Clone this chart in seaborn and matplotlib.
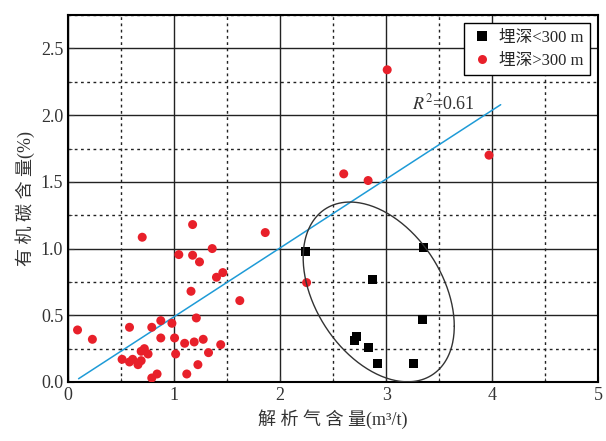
import numpy as np
import pandas as pd
import matplotlib
matplotlib.use('Agg')
import matplotlib.pyplot as plt
from matplotlib.ticker import MultipleLocator, FormatStrFormatter
import seaborn as sns

# 埋深<300 m
shallow_x = [2.24, 3.35, 2.87, 3.34, 2.72, 2.70, 2.835, 2.92, 3.26]
shallow_y = [0.98, 1.005, 0.77, 0.47, 0.34, 0.31, 0.257, 0.135, 0.135]

# 埋深>300 m
deep_x = [0.09, 0.23, 0.51, 0.58, 0.58, 0.61, 0.66, 0.69, 0.69, 0.72, 0.755,
          0.79, 0.79, 0.84, 0.875, 0.875, 0.98, 1.005, 1.015, 1.10, 1.12,
          1.19, 1.21, 1.225, 1.275, 1.325, 1.44, 1.62, 1.16, 1.40, 1.46,
          1.24, 1.045, 1.175, 1.36, 0.70, 1.175, 1.86, 2.25, 2.60, 2.83,
          3.01, 3.97]
deep_y = [0.39, 0.32, 0.17, 0.41, 0.15, 0.17, 0.13, 0.16, 0.23, 0.25, 0.21,
          0.41, 0.03, 0.06, 0.46, 0.33, 0.44, 0.33, 0.21, 0.29, 0.06,
          0.30, 0.48, 0.13, 0.32, 0.22, 0.28, 0.61, 0.68, 0.785, 0.82,
          0.90, 0.955, 0.95, 1.00, 1.085, 1.18, 1.12, 0.745, 1.56, 1.51,
          2.34, 1.70]

label_shallow = '埋深<300 m'
label_deep = '埋深>300 m'

# 拟合线
fit_slope = 0.516
fit_intercept = -0.027
fit_x = [0.1, 4.08]
r2_text = r'$R^2$=0.61'

# 圈出的范围 (椭圆)
ell_center = (2.93, 0.675)
ell_cov = [[0.5076, -0.1829], [-0.1829, 0.4538]]

df = pd.DataFrame({
    'x': shallow_x + deep_x,
    'y': shallow_y + deep_y,
    'group': [label_shallow] * len(shallow_x) + [label_deep] * len(deep_x),
})

sns.set_style('ticks')
plt.rcParams['font.family'] = ['Liberation Serif', 'Noto Sans CJK SC']
plt.rcParams['mathtext.fontset'] = 'stix'
cn_font = ['Liberation Serif', 'Noto Sans CJK SC']

fig = plt.figure(figsize=(6.06, 4.41), dpi=100)
ax = fig.add_axes([0.1122, 0.1338, 0.875, 0.832])

ax.set_xlim(0, 5)
ax.set_ylim(0, 2.75)
ax.xaxis.set_major_locator(MultipleLocator(1))
ax.xaxis.set_minor_locator(MultipleLocator(0.5))
ax.yaxis.set_major_locator(MultipleLocator(0.5))
ax.yaxis.set_minor_locator(MultipleLocator(0.25))
ax.yaxis.set_major_formatter(FormatStrFormatter('%.1f'))
ax.grid(which='major', color='#222222', linewidth=1.0, linestyle='-')
ax.grid(which='minor', color='#222222', linewidth=1.0, linestyle=(0, (2, 2.5)))
ax.set_axisbelow(True)

# 拟合线
fx = np.array(fit_x)
ax.plot(fx, fit_slope * fx + fit_intercept, color='#1E9BD7', linewidth=1.1, zorder=2)

sns.scatterplot(data=df, x='x', y='y', hue='group', style='group',
                palette={label_shallow: 'black', label_deep: '#E8202A'},
                markers={label_shallow: 's', label_deep: 'o'},
                s=42, linewidth=0, ax=ax, zorder=3)

# 椭圆
t = np.linspace(0, 2 * np.pi, 300)
L = np.linalg.cholesky(np.array(ell_cov))
pts = L @ np.vstack([np.cos(t), np.sin(t)])
ax.plot(ell_center[0] + pts[0], ell_center[1] + pts[1], color='#333333',
        linewidth=1.0, zorder=4)

ax.text(3.24, 2.09, r2_text, fontsize=13, ha='left', va='center', color='#333333')

ax.set_xlabel('解 析 气 含 量(m³/t)', fontsize=13, family=cn_font, color='#333333')
ax.set_ylabel('有 机 碳 含 量(%)', fontsize=13, family=cn_font, color='#333333')
ax.tick_params(which='both', direction='in', labelsize=13, colors='#333333',
               top=False, right=False)
ax.tick_params(which='major', length=4)
ax.tick_params(which='minor', length=3)
for sp in ax.spines.values():
    sp.set_color('black')
    sp.set_linewidth(1.5)

ax.legend(loc='upper right', frameon=True, fancybox=False,
          edgecolor='black', framealpha=1, borderpad=0.4, handletextpad=0.3,
          labelspacing=0.4, handlelength=1.4,
          prop={'family': cn_font, 'size': 12})
ax.get_legend().get_frame().set_linewidth(1.0)

fig.savefig('out.png', dpi=100)
